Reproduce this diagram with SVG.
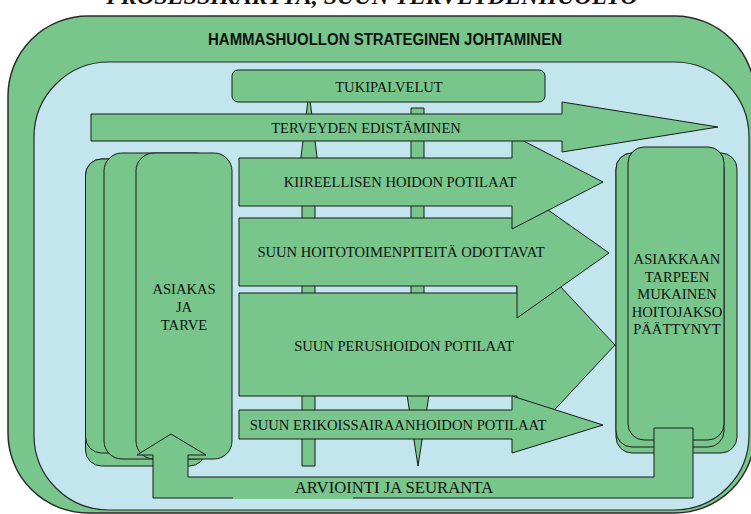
<svg xmlns="http://www.w3.org/2000/svg" width="751" height="514" viewBox="0 0 751 514" font-family="Liberation Serif, Times New Roman, serif">
  <style>
    .g { fill: #78c68c; stroke: #1a1a1a; stroke-width: 1; }
    .gs { fill: #78c68c; stroke: #2a2a2a; stroke-width: 1.5; }
    .t { font-size: 14.6px; fill: #111; text-anchor: middle; }
  </style>
  <rect x="0" y="0" width="751" height="514" fill="#ffffff"/>

  <!-- page title (partly above the frame) -->
  <text x="372" y="4" font-size="24" font-weight="bold" font-style="italic" fill="#111" text-anchor="middle">PROSESSIKARTTA, SUUN TERVEYDENHUOLTO</text>

  <!-- strategic management frame -->
  <g id="strategia">
    <rect class="gs" x="8" y="16" width="747" height="497" rx="80" ry="80"/>
    <text x="385" y="45" font-family="Liberation Sans, Arial, sans-serif" font-size="16" font-weight="bold" fill="#111" text-anchor="middle" textLength="354" lengthAdjust="spacingAndGlyphs">HAMMASHUOLLON STRATEGINEN JOHTAMINEN</text>
  </g>

  <!-- process area -->
  <g id="prosessialue">
    <rect x="34" y="62" width="715" height="448" rx="75" ry="75" fill="#c3e6ee" stroke="#2a2a2a" stroke-width="1.2"/>
  </g>

  <!-- support connectors running through the process -->
  <g id="connectors">
    <polygon class="g" points="309,92 318,165 315,165 315,466 302,466 302,165 300,165"/>
    <polygon class="g" points="411,108 424,108 424,382 431,382 418,466 405,382 411,382"/>
  </g>

  <g id="tukipalvelut">
    <rect class="g" x="232" y="70" width="313" height="32" rx="6" ry="6"/>
    <text class="t" x="389" y="92">TUKIPALVELUT</text>
  </g>

  <!-- patient flows -->
  <g id="perushoito">
    <polygon class="g" points="239,293 517,293 517,240 615,345 517,450 517,396 239,396"/>
    <text class="t" x="404" y="351">SUUN PERUSHOIDON POTILAAT</text>
  </g>

  <g id="erikoissairaanhoito">
    <polygon class="g" points="239,410 512,410 512,396 603,425 512,453 512,439 239,439"/>
    <text class="t" x="398" y="430">SUUN ERIKOISSAIRAANHOIDON POTILAAT</text>
  </g>

  <g id="hoitotoimenpiteet">
    <polygon class="g" points="239,218 517,218 517,188 609,253 517,318 517,286 239,286"/>
    <text class="t" x="401" y="257">SUUN HOITOTOIMENPITEITÄ ODOTTAVAT</text>
  </g>

  <g id="kiireellinen">
    <polygon class="g" points="239,158 512,158 512,135 603,182 512,229 512,206 239,206"/>
    <text class="t" x="400" y="187">KIIREELLISEN HOIDON POTILAAT</text>
  </g>

  <g id="terveyden-edistaminen">
    <polygon class="g" points="91,114 562,114 562,102 718,127 562,152 562,141 91,141"/>
    <text class="t" x="366" y="133">TERVEYDEN EDISTÄMINEN</text>
  </g>

  <!-- client and need: stacked cards -->
  <g id="asiakas">
    <rect class="g" x="85.5" y="159" width="120" height="307" rx="16" ry="16"/>
    <rect class="g" x="85.5" y="159" width="120" height="294" rx="16" ry="16"/>
    <rect class="g" x="104" y="153" width="110" height="306" rx="18" ry="18"/>
    <rect class="g" x="136" y="153" width="96" height="306" rx="18" ry="18"/>
    <text class="t" x="184" y="294">ASIAKAS</text>
    <text class="t" x="184" y="312">JA</text>
    <text class="t" x="184" y="330">TARVE</text>
  </g>

  <!-- care period completed: stacked cards -->
  <g id="hoitojakso">
    <rect class="g" x="616" y="153" width="121" height="300" rx="16" ry="16"/>
    <rect class="g" x="616" y="153" width="108" height="294" rx="16" ry="16"/>
    <rect class="g" x="628" y="147" width="96" height="293" rx="16" ry="16"/>
    <text class="t" x="677" y="264">ASIAKKAAN</text>
    <text class="t" x="677" y="281.5">TARPEEN</text>
    <text class="t" x="677" y="299">MUKAINEN</text>
    <text class="t" x="677" y="316.5">HOITOJAKSO</text>
    <text class="t" x="677" y="334">PÄÄTTYNYT</text>
  </g>

  <!-- evaluation and follow-up feedback loop -->
  <g id="arviointi">
    <polygon class="g" points="171,434 206,455 188,455 188,477 654,477 654,428 693,428 693,498 153,498 153,455 137,455"/>
    <rect x="233" y="479" width="120" height="20" fill="#78c68c"/>
    <text class="t" x="394" y="493" style="font-size:16.7px">ARVIOINTI JA SEURANTA</text>
  </g>
</svg>
